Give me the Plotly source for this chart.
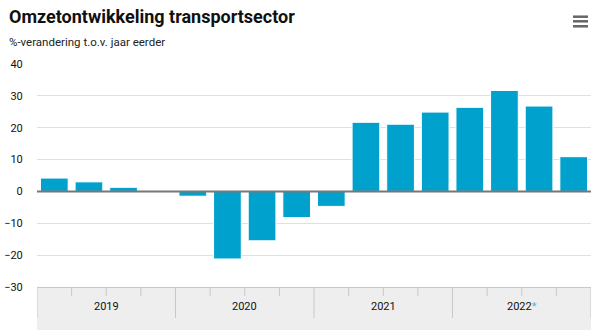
import plotly.graph_objects as go

years = ["2019", "2020", "2021", "2022*"]
quarters = ["1e kwartaal", "2e kwartaal", "3e kwartaal", "4e kwartaal"]
values = [4.2, 3.0, 1.3, -0.2,
          -1.5, -21.2, -15.5, -8.2,
          -4.7, 21.7, 21.1, 24.9,
          26.4, 31.7, 26.8, 10.9]
y_ticks = [-30, -20, -10, 0, 10, 20, 30, 40]

BAR = "#00A1CD"
FONT = "Roboto"

n_q = len(quarters)
xs = list(range(len(values)))
hover = [f"{years[i // n_q]} {quarters[i % n_q]}" for i in xs]

fig = go.Figure()
fig.add_trace(go.Bar(
    x=xs, y=values, marker=dict(color=BAR, line=dict(color="white", width=1)),
    hovertext=hover, hoverinfo="text+y", showlegend=False,
))

L, R, T, B = 37, 9, 64, 43
plot_w = 600 - L - R
plot_h = 330 - T - B


def px_x(x):
    return (x - L) / plot_w


def px_y(y):
    return (330 - B - y) / plot_h


shapes = [dict(type="rect", xref="paper", yref="paper", x0=0, x1=1, y0=px_y(330), y1=0,
               fillcolor="#eeeeee", line=dict(width=0), layer="below")]
for i in range(len(values) + 1):
    xpos = i - 0.5
    long = (i % n_q == 0)
    shapes.append(dict(type="line", xref="x", yref="paper", x0=xpos, x1=xpos,
                       y0=0, y1=-(31 if long else 9) / plot_h,
                       line=dict(color="#c8c8c8", width=1)))
# zero line drawn above the bars
shapes.append(dict(type="line", xref="paper", yref="y", x0=0, x1=1, y0=0, y1=0,
                   line=dict(color="#777777", width=2), layer="above"))
# hamburger menu
for yy in (16.7, 21.3, 26.3):
    shapes.append(dict(type="line", xref="paper", yref="paper",
                       x0=px_x(573), x1=px_x(588), y0=px_y(yy), y1=px_y(yy),
                       line=dict(color="#666666", width=2.5)))

annotations = []
for g, yr in enumerate(years):
    center = sum(xs[g * n_q:(g + 1) * n_q]) / n_q
    txt = yr.replace("*", "<span style='color:#5fb0dd'>*</span>")
    annotations.append(dict(x=center, y=px_y(306), xref="x", yref="paper", text=txt,
                            showarrow=False, xanchor="center", yanchor="middle",
                            font=dict(family=FONT, size=11, color="#111111")))
annotations.append(dict(x=px_x(7), y=px_y(16.7), xref="paper", yref="paper",
                        text="<b>Omzetontwikkeling transportsector</b>", showarrow=False,
                        xanchor="left", yanchor="middle",
                        font=dict(family=FONT, size=18, color="#111111")))
annotations.append(dict(x=px_x(7), y=px_y(42), xref="paper", yref="paper",
                        text="%-verandering t.o.v. jaar eerder", showarrow=False,
                        xanchor="left", yanchor="middle",
                        font=dict(family=FONT, size=11.5, color="#222222")))

fig.update_layout(
    width=600, height=330,
    margin=dict(l=L, r=R, t=T, b=B, pad=0, autoexpand=False),
    paper_bgcolor="white", plot_bgcolor="white",
    bargap=0.2,
    shapes=shapes, annotations=annotations,
    xaxis=dict(range=[-0.5, len(values) - 0.5], showticklabels=False, showgrid=False,
               zeroline=False, showline=True, linecolor="#c8c8c8", linewidth=1,
               ticks="", fixedrange=True, automargin=False),
    yaxis=dict(range=[y_ticks[0], y_ticks[-1]], tickvals=y_ticks, showgrid=True,
               gridcolor="#e0e0e0", gridwidth=1, zeroline=False,
               ticks="outside", ticklen=11, tickcolor="rgba(0,0,0,0)",
               tickfont=dict(family=FONT, size=11, color="#111111"), fixedrange=True,
               automargin=False),
    font=dict(family=FONT),
)

fig.write_html("out.html")
